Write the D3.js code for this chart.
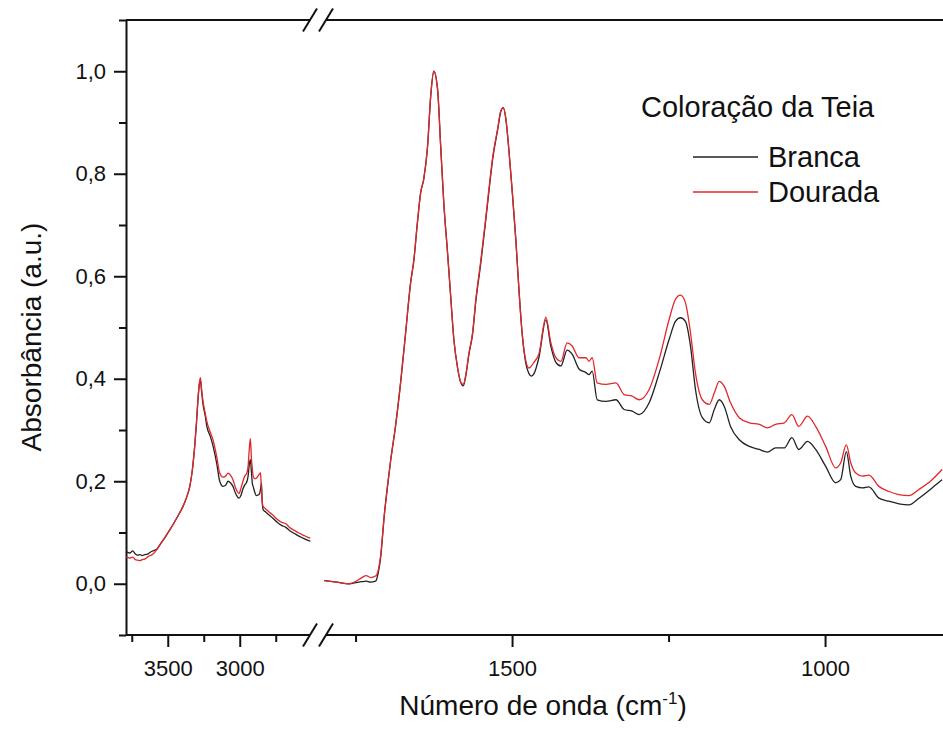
<!DOCTYPE html>
<html>
<head>
<meta charset="utf-8">
<script src="https://cdn.jsdelivr.net/npm/d3@7"></script>
<style>
  body { margin: 0; background: #fff; }
  svg { display: block; font-family: "Liberation Sans", Arial, sans-serif; }
</style>
</head>
<body>
<div id="chart"></div>
<script>
// left segment of the broken x axis (high wavenumbers)
const leftWavenumbers = [3788, 3765, 3743, 3725, 3708, 3694, 3677, 3660, 3640, 3625, 3613, 3595, 3578, 3550, 3520, 3486, 3450, 3420, 3394, 3370, 3347, 3330, 3313, 3300, 3290, 3280, 3273, 3265, 3255, 3240, 3227, 3205, 3185, 3160, 3139, 3116, 3098, 3081, 3065, 3047, 3030, 3015, 3005, 2992, 2978, 2965, 2952, 2942, 2934, 2926, 2919, 2912, 2907, 2895, 2884, 2874, 2866, 2860, 2856, 2852, 2849, 2844, 2838, 2820, 2800, 2770, 2740, 2710, 2680, 2650, 2620, 2590, 2560, 2530, 2510]
const leftBranca = [0.063, 0.060, 0.064, 0.058, 0.056, 0.057, 0.055, 0.057, 0.058, 0.061, 0.063, 0.065, 0.067, 0.078, 0.090, 0.105, 0.122, 0.137, 0.151, 0.168, 0.190, 0.220, 0.268, 0.315, 0.359, 0.390, 0.397, 0.375, 0.350, 0.328, 0.305, 0.288, 0.268, 0.235, 0.200, 0.190, 0.192, 0.200, 0.197, 0.190, 0.177, 0.169, 0.167, 0.172, 0.185, 0.193, 0.198, 0.210, 0.232, 0.242, 0.218, 0.195, 0.190, 0.178, 0.172, 0.173, 0.174, 0.178, 0.184, 0.192, 0.197, 0.160, 0.145, 0.140, 0.135, 0.128, 0.120, 0.114, 0.110, 0.103, 0.098, 0.093, 0.089, 0.085, 0.083]
const leftDourada = [0.053, 0.050, 0.052, 0.047, 0.046, 0.045, 0.047, 0.048, 0.052, 0.055, 0.056, 0.060, 0.066, 0.078, 0.090, 0.105, 0.122, 0.137, 0.151, 0.168, 0.190, 0.220, 0.268, 0.318, 0.362, 0.393, 0.402, 0.380, 0.356, 0.333, 0.315, 0.296, 0.280, 0.248, 0.216, 0.208, 0.210, 0.216, 0.212, 0.203, 0.188, 0.179, 0.176, 0.186, 0.200, 0.210, 0.215, 0.229, 0.262, 0.283, 0.245, 0.223, 0.210, 0.205, 0.206, 0.210, 0.213, 0.215, 0.217, 0.200, 0.180, 0.160, 0.151, 0.146, 0.141, 0.134, 0.126, 0.120, 0.117, 0.109, 0.104, 0.099, 0.095, 0.091, 0.089]

// right segment (fingerprint region)
const rightWavenumbers = [1800, 1780, 1760, 1750, 1740, 1733, 1726, 1718, 1714, 1710, 1704, 1699, 1694, 1686, 1678, 1670, 1662, 1657, 1651, 1646, 1641, 1635, 1630, 1625, 1619, 1614, 1609, 1603, 1598, 1593, 1587, 1582, 1578, 1574, 1569, 1563, 1558, 1550, 1542, 1537, 1531, 1523, 1518, 1514, 1510, 1505, 1500, 1494, 1489, 1484, 1478, 1473, 1469, 1465, 1457, 1446, 1438, 1430, 1422, 1412, 1404, 1393, 1382, 1377, 1372, 1364, 1350, 1334, 1321, 1308, 1297, 1281, 1265, 1249, 1239, 1231, 1223, 1215, 1207, 1196, 1185, 1177, 1169, 1161, 1151, 1137, 1121, 1105, 1092, 1079, 1065, 1053, 1042, 1028, 1015, 999, 983, 975, 966, 959, 951, 940, 930, 914, 898, 882, 866, 850, 829, 813]
const rightBranca = [0.006, 0.003, 0.000, 0.002, 0.004, 0.005, 0.003, 0.005, 0.020, 0.050, 0.135, 0.190, 0.240, 0.309, 0.393, 0.490, 0.588, 0.630, 0.707, 0.763, 0.790, 0.853, 0.951, 1.000, 0.965, 0.853, 0.742, 0.645, 0.560, 0.477, 0.421, 0.393, 0.386, 0.405, 0.447, 0.488, 0.550, 0.625, 0.710, 0.765, 0.828, 0.886, 0.921, 0.929, 0.907, 0.845, 0.770, 0.672, 0.574, 0.490, 0.430, 0.410, 0.405, 0.410, 0.442, 0.515, 0.463, 0.432, 0.425, 0.456, 0.448, 0.419, 0.412, 0.408, 0.415, 0.359, 0.356, 0.359, 0.340, 0.337, 0.330, 0.353, 0.411, 0.477, 0.512, 0.519, 0.512, 0.464, 0.379, 0.324, 0.314, 0.340, 0.359, 0.346, 0.307, 0.281, 0.268, 0.262, 0.257, 0.265, 0.265, 0.285, 0.262, 0.278, 0.262, 0.229, 0.197, 0.203, 0.258, 0.210, 0.190, 0.187, 0.189, 0.167, 0.161, 0.156, 0.154, 0.167, 0.187, 0.203]
const rightDourada = [0.006, 0.003, 0.000, 0.004, 0.012, 0.016, 0.012, 0.015, 0.025, 0.055, 0.135, 0.190, 0.240, 0.309, 0.393, 0.490, 0.588, 0.630, 0.707, 0.763, 0.790, 0.853, 0.951, 1.000, 0.965, 0.853, 0.742, 0.645, 0.560, 0.477, 0.421, 0.393, 0.389, 0.407, 0.449, 0.490, 0.553, 0.630, 0.714, 0.770, 0.832, 0.888, 0.923, 0.929, 0.909, 0.846, 0.770, 0.672, 0.574, 0.490, 0.435, 0.421, 0.425, 0.432, 0.449, 0.520, 0.470, 0.441, 0.434, 0.470, 0.464, 0.441, 0.441, 0.434, 0.441, 0.392, 0.389, 0.392, 0.369, 0.366, 0.359, 0.379, 0.438, 0.516, 0.555, 0.563, 0.548, 0.490, 0.411, 0.359, 0.350, 0.372, 0.395, 0.385, 0.353, 0.324, 0.314, 0.311, 0.304, 0.311, 0.314, 0.330, 0.307, 0.327, 0.307, 0.268, 0.226, 0.236, 0.271, 0.236, 0.216, 0.210, 0.212, 0.190, 0.180, 0.174, 0.172, 0.184, 0.203, 0.223]

const seriesNames = ["Branca", "Dourada"]
const seriesColors = ["#222222", "#e0282d"]

const yMajorTicks = [0, 0.2, 0.4, 0.6, 0.8, 1.0]
const yMinorTicks = [-0.1, 0.1, 0.3, 0.5, 0.7, 0.9, 1.1]
const leftMajorTicks = [3500, 3000]
const leftMinorTicks = [3750, 3250, 2750]
const rightMajorTicks = [1500, 1000]
const rightMinorTicks = [1750, 1250]

const width = 943
const height = 733
const plotLeft = 126
const plotTop = 20
const plotBottom = 635
const breakA = 310
const breakB = 326

const svg = d3.select("#chart").append("svg").attr("width", width).attr("height", height)

const xLeft = d3.scaleLinear().domain([3790, 2460]).range([plotLeft, 317.5])
const xRight = d3.scaleLinear().domain([1810, 810]).range([318, 944])
const y = d3.scaleLinear().domain([-0.1, 1.1]).range([plotBottom, plotTop])

const fmt = d => d3.format(".1f")(d).replace(".", ",")

// y axis, major and minor ticks
svg.append("g").attr("transform", `translate(${plotLeft},0)`)
  .call(d3.axisLeft(y).tickValues(yMajorTicks).tickSize(12).tickSizeOuter(0).tickPadding(8).tickFormat(fmt))
svg.append("g").attr("transform", `translate(${plotLeft},0)`)
  .call(d3.axisLeft(y).tickValues(yMinorTicks).tickSize(7).tickFormat(""))
  .call(g => g.select(".domain").remove())

// bottom axis, two pieces
function bottomAxis(scale, major, minor) {
  svg.append("g").attr("transform", `translate(0,${plotBottom})`)
    .call(d3.axisBottom(scale).tickValues(major).tickSize(12).tickPadding(13).tickFormat(d3.format("d")))
    .call(g => g.select(".domain").remove())
  svg.append("g").attr("transform", `translate(0,${plotBottom})`)
    .call(d3.axisBottom(scale).tickValues(minor).tickSize(7).tickFormat(""))
    .call(g => g.select(".domain").remove())
}
bottomAxis(xLeft, leftMajorTicks, leftMinorTicks)
bottomAxis(xRight, rightMajorTicks, rightMinorTicks)

// drop d3's default axis font so the page font is used
svg.selectAll("g").attr("font-family", null).attr("font-size", null)
svg.selectAll(".tick text").attr("font-size", 22).attr("fill", "#111")
svg.selectAll(".tick line, .domain").attr("stroke", "#111").attr("stroke-width", 2)

// top and bottom frame lines with the break marks
const frame = svg.append("g").attr("stroke", "#111").attr("stroke-width", 2).attr("fill", "none")
;[plotTop, plotBottom].forEach(yy => {
  frame.append("line").attr("x1", plotLeft).attr("x2", breakA).attr("y1", yy).attr("y2", yy)
  frame.append("line").attr("x1", breakB).attr("x2", width).attr("y1", yy).attr("y2", yy)
  ;[breakA, breakB].forEach(bx => {
    frame.append("line").attr("x1", bx - 7).attr("y1", yy + 11.5).attr("x2", bx + 7).attr("y2", yy - 11.5)
  })
})

// spectra
const segments = [
  { x: xLeft, w: leftWavenumbers, vals: [leftBranca, leftDourada] },
  { x: xRight, w: rightWavenumbers, vals: [rightBranca, rightDourada] }
]
segments.forEach(seg => {
  const line = d3.line().x(d => seg.x(d[0])).y(d => y(d[1])).curve(d3.curveMonotoneX)
  seg.vals.forEach((vals, i) => {
    svg.append("path")
      .datum(seg.w.map((w, j) => [w, vals[j]]))
      .attr("fill", "none")
      .attr("stroke", seriesColors[i])
      .attr("stroke-width", 1.3)
      .attr("d", line)
  })
})

// legend
const legend = svg.append("g").attr("font-size", 29).attr("fill", "#111")
legend.append("text").attr("x", 641).attr("y", 117).text("Coloração da Teia")
seriesNames.forEach((name, i) => {
  const ly = 157 + i * 35
  legend.append("line").attr("x1", 693).attr("x2", 758).attr("y1", ly).attr("y2", ly)
    .attr("stroke", seriesColors[i]).attr("stroke-width", 1.3)
  legend.append("text").attr("x", 768).attr("y", ly + 10).text(name)
})

// axis titles
svg.append("text")
  .attr("transform", "translate(41,337) rotate(-90)")
  .attr("text-anchor", "middle")
  .attr("font-size", 28)
  .attr("fill", "#111")
  .text("Absorbância (a.u.)")

const xTitle = svg.append("text")
  .attr("x", 543).attr("y", 715)
  .attr("text-anchor", "middle")
  .attr("font-size", 28)
  .attr("fill", "#111")
xTitle.append("tspan").text("Número de onda (cm")
xTitle.append("tspan").attr("font-size", 17).attr("dy", -11).text("-1")
xTitle.append("tspan").attr("dy", 11).text(")")
</script>
</body>
</html>
